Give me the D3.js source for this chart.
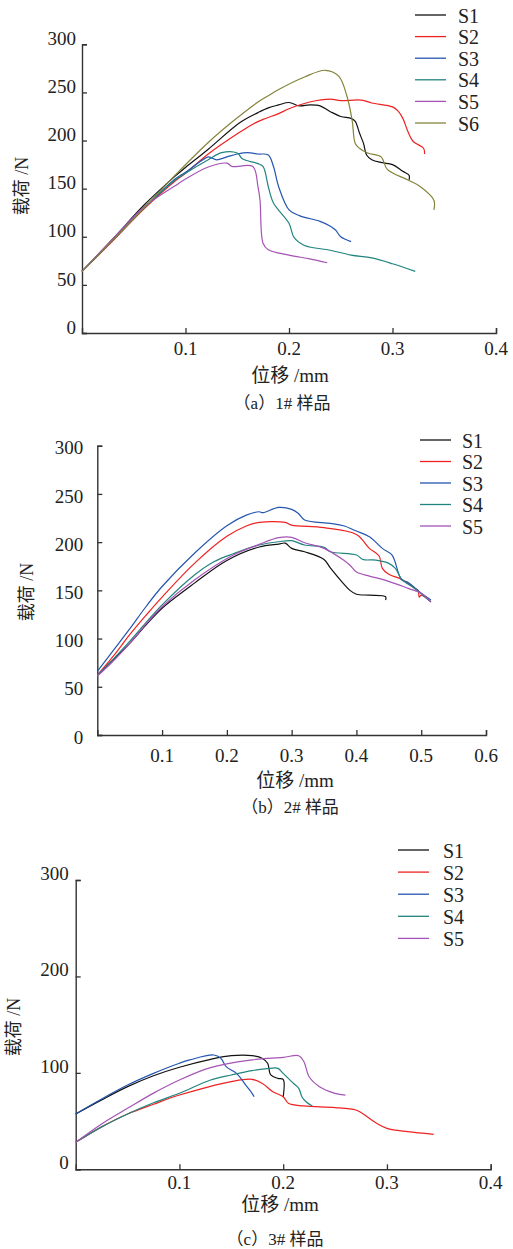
<!DOCTYPE html>
<html>
<head>
<meta charset="utf-8">
<title>载荷-位移曲线</title>
<script src="https://d3js.org/d3.v7.min.js"></script>
<style>
  body { margin: 0; background: #fff; }
  text { fill: #222; }
  .lat { font-family: "Liberation Serif", "Times New Roman", serif; }
  .cjk { font-family: "Noto Sans CJK SC", sans-serif; }
</style>
</head>
<body>
<svg id="chart"></svg>
<script>
// series names and colours
const names = ["S1", "S2", "S3", "S4", "S5", "S6"];
const colors = ["#111111", "#ee2222", "#2456b0", "#20847f", "#a553b5", "#85843a"];

// (a) 1# sample  [displacement mm, load N]
const aS1 = [[0,64],[0.03,98],[0.06,133],[0.09,163],[0.1,172],[0.122,191],[0.153,219],[0.17,229],[0.18,234],[0.19,237],[0.2,239.5],[0.21,236],[0.22,237],[0.23,236],[0.24,230],[0.25,225],[0.26,223],[0.264,220],[0.268,208],[0.272,197],[0.275,185],[0.28,180],[0.29,177],[0.3,175],[0.31,168],[0.316,164],[0.316,159]];
const aS2 = [[0,64],[0.03,96],[0.06,129],[0.09,158],[0.1,166],[0.122,186],[0.153,209],[0.165,217],[0.175,222],[0.19,228],[0.2,233],[0.22,240],[0.24,243],[0.25,241.5],[0.27,242],[0.28,239],[0.3,235],[0.305,231],[0.31,223],[0.315,209],[0.32,199],[0.33,192],[0.331,186]];
const aS3 = [[0,64],[0.03,97],[0.06,130],[0.09,160],[0.1,167],[0.122,183],[0.125,182],[0.13,180],[0.14,183],[0.15,186],[0.16,187.5],[0.17,186],[0.18,185],[0.185,173],[0.19,152],[0.2,128],[0.21,122],[0.23,116],[0.24,111],[0.245,107],[0.25,100],[0.26,95]];
const aS4 = [[0,64],[0.03,97],[0.06,130],[0.09,159],[0.1,166],[0.122,180],[0.135,187.5],[0.15,187],[0.155,181],[0.17,176],[0.175,173],[0.18,152],[0.185,135],[0.2,114],[0.205,99],[0.215,91],[0.24,86],[0.26,81],[0.28,78],[0.3,72],[0.322,64]];
const aS5 = [[0,64],[0.03,98],[0.06,131],[0.09,153],[0.1,160],[0.122,172.5],[0.14,176.5],[0.145,173],[0.165,173],[0.17,152],[0.172,138],[0.175,93],[0.18,86.5],[0.2,81],[0.22,77],[0.237,73]];
const aS6 = [[0,64],[0.03,97],[0.06,130],[0.09,164],[0.122,198],[0.147,221],[0.17,240],[0.179,246],[0.19,253],[0.215,266],[0.235,273],[0.248,267],[0.256,246],[0.261,221],[0.264,197],[0.268,192],[0.276,187],[0.289,183],[0.295,170],[0.315,159],[0.327,152],[0.34,138],[0.34,128]];

// (b) 2# sample
const bS1 = [[0,62],[0.025,78],[0.05,95],[0.075,114],[0.1,131.5],[0.15,157.5],[0.2,181],[0.25,195],[0.28,198],[0.29,199],[0.3,193.5],[0.32,190],[0.35,182],[0.36,173],[0.38,157],[0.39,150],[0.4,146],[0.42,145],[0.445,143.4],[0.445,140]];
const bS2 = [[0,62],[0.025,82],[0.05,104],[0.075,124],[0.1,143],[0.15,178],[0.2,206],[0.23,216.7],[0.25,220.5],[0.29,220.5],[0.3,217.7],[0.35,215],[0.4,208],[0.42,193.5],[0.435,185.6],[0.44,172.8],[0.45,166.6],[0.47,161.4],[0.49,152],[0.495,150.3],[0.497,143],[0.5,145],[0.515,138]];
const bS3 = [[0,66],[0.025,88],[0.05,110],[0.075,133],[0.1,154],[0.15,188.5],[0.2,217],[0.23,228],[0.25,231.5],[0.255,230.5],[0.28,236],[0.3,234],[0.31,230],[0.32,223],[0.36,219.5],[0.38,217],[0.4,211.5],[0.42,205.6],[0.44,193.5],[0.455,186.6],[0.465,167.6],[0.47,160.7],[0.48,158],[0.5,147],[0.515,140]];
const bS4 = [[0,62],[0.025,79],[0.05,97],[0.075,116.5],[0.1,135],[0.15,166],[0.18,179.7],[0.21,188],[0.25,197],[0.28,200.4],[0.3,201.5],[0.32,197],[0.35,194.6],[0.36,190],[0.4,186.6],[0.41,182],[0.43,181.4],[0.45,178],[0.46,172.8],[0.47,161.4],[0.49,152],[0.515,138]];
const bS5 = [[0,61],[0.025,77],[0.05,95],[0.075,115],[0.1,133],[0.15,160.7],[0.21,186.6],[0.25,197.7],[0.28,204.6],[0.3,205],[0.32,199.4],[0.35,193.5],[0.38,181.4],[0.39,176],[0.4,169],[0.42,164.8],[0.44,161.4],[0.46,157],[0.48,152],[0.5,147],[0.515,138]];

// (c) 3# sample
const cS1 = [[0,57.4],[0.025,72],[0.05,85.7],[0.075,97],[0.1,105.8],[0.13,114],[0.15,117.8],[0.17,117.8],[0.18,115],[0.185,110],[0.188,97.8],[0.195,94.3],[0.2,93.3],[0.2,75]];
const cS2 = [[0,28],[0.025,44],[0.05,57.4],[0.075,67.5],[0.1,77],[0.15,91],[0.17,93.3],[0.18,89],[0.19,80.5],[0.2,75.3],[0.205,68.4],[0.22,65.7],[0.25,64],[0.27,61.5],[0.275,58.8],[0.29,47.7],[0.3,42.5],[0.32,39],[0.345,36.3]];
const cS3 = [[0,57.4],[0.025,73],[0.05,87.4],[0.075,99.5],[0.1,110],[0.11,113.4],[0.133,118.5],[0.14,115],[0.145,106.4],[0.155,99.5],[0.165,85.7],[0.17,78.8],[0.172,75.3]];
const cS4 = [[0,28],[0.025,44],[0.05,57.4],[0.075,69],[0.1,78.8],[0.13,92.6],[0.15,97.8],[0.17,102.3],[0.19,105],[0.195,104.7],[0.2,99.5],[0.21,89],[0.215,84],[0.218,75.3],[0.222,70],[0.228,65.7]];
const cS5 = [[0,28],[0.025,47],[0.05,63.2],[0.075,79],[0.1,92.6],[0.13,105.4],[0.17,113.4],[0.2,116],[0.215,117.8],[0.22,111.6],[0.225,96],[0.235,85.7],[0.25,78.8],[0.26,77]];

// tick labels
const xTicksA = [0.1, 0.2, 0.3, 0.4];
const xTicksB = [0.1, 0.2, 0.3, 0.4, 0.5, 0.6];
const yTicksAB = [0, 50, 100, 150, 200, 250, 300];
const yTicksC = [0, 100, 200, 300];
// captions / titles split into [latin or cjk, text] runs
const captions = [
  [["c", "（"], ["l", "a"], ["c", "）"], ["l", "1# "], ["c", "样品"]],
  [["c", "（"], ["l", "b"], ["c", "）"], ["l", "2# "], ["c", "样品"]],
  [["c", "（"], ["l", "c"], ["c", "）"], ["l", "3# "], ["c", "样品"]]
];
const xTitle = [["c", "位移"], ["l", " /mm"]];
const yTitle = [["c", "载荷"], ["l", " /N"]];

const W = 513, H = 1249;
const LAT = '"Liberation Serif", "Times New Roman", serif';
const CJK = '"Noto Sans CJK SC", sans-serif';

const svg = d3.select("#chart").attr("width", W).attr("height", H);

function runs(sel, parts) {
  sel.selectAll("tspan").data(parts).join("tspan")
    .attr("class", d => d[0] === "c" ? "cjk" : "lat")
    .style("font-family", d => d[0] === "c" ? CJK : LAT)
    .text(d => d[1]);
}

const panels = [
  { series: [aS1, aS2, aS3, aS4, aS5, aS6], xMax: 0.4, xTicks: xTicksA, yTicks: yTicksAB,
    x0: 82, x1: 496, y0: 333, y1: 44.3, yLabDy: -6, yLabGap: 6, xLabY: 355,
    xTitleX: 290, xTitleY: 382, capX: 282, capY: 409, yTitleX: 22, yTitleY: 186,
    legX: 415, legTextX: 458, legY: 15, legStep: 21.6 },
  { series: [bS1, bS2, bS3, bS4, bS5], xMax: 0.6, xTicks: xTicksB, yTicks: yTicksAB,
    x0: 97.3, x1: 486, y0: 735, y1: 445.7, yLabDy: 2, yLabGap: 14, xLabY: 762,
    xTitleX: 295, xTitleY: 787, capX: 290, capY: 813, yTitleX: 27, yTitleY: 592,
    legX: 420, legTextX: 462, legY: 440, legStep: 21.5 },
  { series: [cS1, cS2, cS3, cS4, cS5], xMax: 0.4, xTicks: xTicksA, yTicks: yTicksC,
    x0: 75.7, x1: 490.7, y0: 1169.3, y1: 880, yLabDy: -7, yLabGap: 7, xLabY: 1189,
    xTitleX: 280, xTitleY: 1211, capX: 275, capY: 1245, yTitleX: 14, yTitleY: 1027,
    legX: 398, legTextX: 443, legY: 850, legStep: 22.1 }
];

panels.forEach((p, pi) => {
  const g = svg.append("g");
  const x = d3.scaleLinear().domain([0, p.xMax]).range([p.x0, p.x1]);
  const y = d3.scaleLinear().domain([0, 300]).range([p.y0, p.y1]);

  // axes: ticks point inward, labels placed by hand
  const xAxis = g.append("g").attr("transform", `translate(0,${p.y0})`)
    .call(d3.axisBottom(x).tickValues(p.xTicks).tickSize(-5).tickFormat(""));
  const yAxis = g.append("g").attr("transform", `translate(${p.x0},0)`)
    .call(d3.axisLeft(y).tickValues(p.yTicks).tickSize(-5).tickFormat(""));
  [xAxis, yAxis].forEach(a => {
    a.select(".domain").attr("stroke", "#333").attr("stroke-width", 1.4);
    a.selectAll(".tick line").attr("stroke", "#333").attr("stroke-width", 1.3);
  });

  g.selectAll(".xl").data(p.xTicks).join("text")
    .attr("class", "lat").style("font-family", LAT)
    .attr("x", d => x(d)).attr("y", p.xLabY)
    .attr("text-anchor", "middle")
    .style("font-size", "19px")
    .text(d => d3.format(".1f")(d));

  g.selectAll(".yl").data(p.yTicks).join("text")
    .attr("class", "lat").style("font-family", LAT)
    .attr("x", p.x0 - p.yLabGap).attr("y", d => y(d) + p.yLabDy)
    .attr("dy", "0.35em")
    .attr("text-anchor", "end")
    .style("font-size", "19px")
    .text(d => d);

  // curves
  const line = d3.line().x(d => x(d[0])).y(d => y(d[1]))
    .curve(d3.curveCatmullRom.alpha(0.5));
  g.selectAll(".curve").data(p.series).join("path")
    .attr("fill", "none")
    .attr("stroke", (d, i) => colors[i])
    .attr("stroke-width", 1.2)
    .attr("stroke-linejoin", "round")
    .attr("d", line);

  // titles
  g.append("text").attr("x", p.xTitleX).attr("y", p.xTitleY)
    .attr("text-anchor", "middle").style("font-size", "19px")
    .call(runs, xTitle);
  g.append("text").attr("x", p.capX).attr("y", p.capY)
    .attr("text-anchor", "middle").style("font-size", "17px")
    .call(runs, captions[pi]);
  g.append("text")
    .attr("transform", `translate(${p.yTitleX},${p.yTitleY}) rotate(-90)`)
    .attr("text-anchor", "middle").attr("dy", "0.35em")
    .style("font-size", "18px")
    .call(runs, yTitle);

  // legend
  const leg = g.selectAll(".leg").data(p.series.map((s, i) => names[i])).join("g")
    .attr("transform", (d, i) => `translate(0,${p.legY + i * p.legStep})`);
  leg.append("line")
    .attr("x1", p.legX).attr("x2", p.legX + 31)
    .attr("stroke", (d, i) => colors[i]).attr("stroke-width", 1.3);
  leg.append("text")
    .attr("class", "lat").style("font-family", LAT)
    .attr("x", p.legTextX).attr("dy", "0.38em")
    .style("font-size", "20px")
    .text(d => d);
});
</script>
</body>
</html>
